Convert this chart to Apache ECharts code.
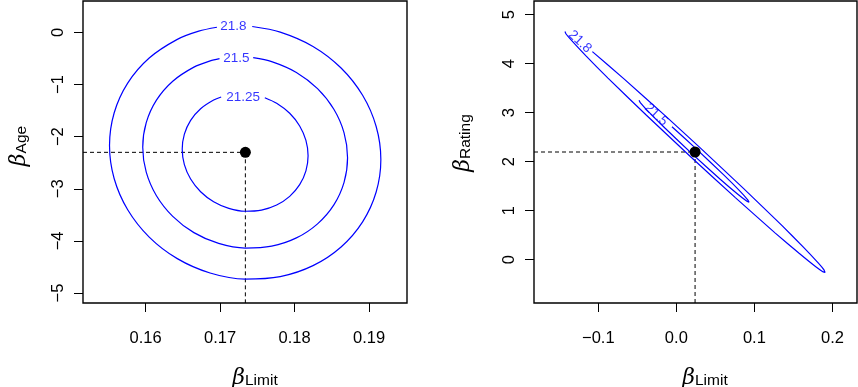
<!DOCTYPE html>
<html><head><meta charset="utf-8">
<script src="https://cdn.jsdelivr.net/npm/echarts@6/dist/echarts.min.js"></script>
<style>html,body{margin:0;padding:0;background:#fff}#c{width:858px;height:387px}</style>
</head><body><div id="c"></div>
<script>
// ---------- Left panel: beta_Limit vs beta_Age ----------
const leftXTicks = [0.16, 0.17, 0.18, 0.19];
const leftYTicks = [-5, -4, -3, -2, -1, 0];
const leftEstimate = [0.1734, -2.30];
const leftLevels = ['21.8', '21.5', '21.25'];
const leftLabelPos = [[0.1718, 0.126], [0.1722, -0.490], [0.1731, -1.245]];
const ageContour218 = [[0.17432,0.1143],[0.17808,0.0071],[0.18248,-0.2679],[0.18625,-0.6815],[0.18914,-1.2057],[0.19096,-1.8047],[0.19159,-2.4377],[0.19096,-3.0615],[0.18914,-3.6337],[0.18625,-4.1151],[0.18248,-4.4731],[0.17808,-4.6833],[0.17337,-4.7313],[0.16866,-4.6137],[0.16426,-4.3387],[0.16049,-3.9251],[0.15760,-3.4009],[0.15578,-2.8019],[0.15516,-2.1689],[0.15578,-1.5451],[0.15760,-0.9729],[0.16049,-0.4915],[0.16426,-0.1335],[0.16714,0.0243],[0.16958,0.0995]];
const ageContour215 = [[0.17445,-0.4839],[0.17693,-0.5590],[0.18025,-0.7665],[0.18309,-1.0789],[0.18528,-1.4746],[0.18665,-1.9269],[0.18712,-2.4048],[0.18665,-2.8757],[0.18528,-3.3078],[0.18309,-3.6713],[0.18025,-3.9415],[0.17693,-4.1002],[0.17337,-4.1364],[0.16981,-4.0476],[0.16649,-3.8401],[0.16365,-3.5277],[0.16146,-3.1320],[0.16009,-2.6797],[0.15962,-2.2018],[0.16009,-1.7309],[0.16146,-1.2988],[0.16365,-0.9353],[0.16649,-0.6651],[0.16867,-0.5460],[0.16993,-0.5033]];
const ageContour2125 = [[0.17601,-1.2525],[0.17760,-1.3588],[0.17935,-1.5508],[0.18069,-1.7940],[0.18153,-2.0719],[0.18182,-2.3657],[0.18153,-2.6551],[0.18069,-2.9206],[0.17935,-3.1440],[0.17760,-3.3102],[0.17556,-3.4076],[0.17337,-3.4299],[0.17118,-3.3754],[0.16914,-3.2478],[0.16739,-3.0558],[0.16605,-2.8126],[0.16521,-2.5347],[0.16492,-2.2409],[0.16521,-1.9515],[0.16605,-1.6860],[0.16739,-1.4626],[0.16914,-1.2964],[0.17015,-1.2380]];

// ---------- Right panel: beta_Limit vs beta_Rating ----------
const rightXTicks = [-0.1, 0.0, 0.1, 0.2];
const rightXTickLabels = ['\u22120.1', '0.0', '0.1', '0.2'];
const rightYTicks = [0, 1, 2, 3, 4, 5];
const rightEstimate = [0.0240, 2.198];
const rightLevels = ['21.8', '21.5'];
const rightLabelPos = [[-0.1235, 4.449], [-0.026, 2.959]];
const ratingContour218 = [[-0.1076,4.247],[-0.0671,3.690],[-0.0137,2.931],[0.0296,2.298],[0.0863,1.451],[0.1355,0.694],[0.1637,0.241],[0.1826,-0.080],[0.1892,-0.206],[0.1906,-0.259],[0.1872,-0.239],[0.1787,-0.145],[0.1573,0.131],[0.1268,0.543],[0.0756,1.267],[0.0183,2.102],[-0.0383,2.949],[-0.0876,3.706],[-0.1158,4.159],[-0.1346,4.480],[-0.1413,4.606],[-0.1427,4.659]];
const ratingContour215 = [[-0.0056,2.714],[0.0255,2.261],[0.0604,1.735],[0.0821,1.390],[0.0915,1.222],[0.0932,1.173],[0.0900,1.198],[0.0788,1.335],[0.0555,1.653],[0.0199,2.165],[-0.0150,2.694],[-0.0367,3.039],[-0.0462,3.206],[-0.0478,3.255]];

const L = {xmin: 0.1516, xmax: 0.1951, ymin: -5.19, ymax: 0.603};
const R = {xmin: -0.1824, xmax: 0.2315, ymin: -0.884, ymax: 5.28};

const FONT = 'Liberation Sans';
const BLUE = '#0000ff';
const minus = v => String(v).replace('-', '\u2212');

function xAxisCfg(grid, rng, ticks, labels) {
  return {
    type: 'value', gridIndex: grid, min: rng.xmin, max: rng.xmax, position: 'bottom',
    axisLine: {show: false, onZero: false}, splitLine: {show: false},
    axisTick: {show: true, inside: false, length: 9, customValues: ticks, lineStyle: {color: '#000', width: 1}},
    axisLabel: {show: true, customValues: ticks, margin: 27, color: '#000', fontFamily: FONT, fontSize: 16.5,
      formatter: v => { const i = ticks.findIndex(t => Math.abs(t - v) < 1e-9); return labels ? labels[i] : minus(v); }}
  };
}
function yAxisCfg(grid, rng, ticks) {
  return {
    type: 'value', gridIndex: grid, min: rng.ymin, max: rng.ymax, position: 'left',
    axisLine: {show: false, onZero: false}, splitLine: {show: false},
    axisTick: {show: true, inside: false, length: 9, customValues: ticks, lineStyle: {color: '#000', width: 1}},
    axisLabel: {show: true, customValues: ticks, rotate: 90, margin: 16, color: '#000', fontFamily: FONT, fontSize: 16.5,
      formatter: v => minus(v)}
  };
}
function contour(data, xi) {
  return {type: 'line', xAxisIndex: xi, yAxisIndex: xi, data: data, showSymbol: false, smooth: xi === 0 ? 0.3 : 0.15,
    lineStyle: {color: BLUE, width: 1.2}, silent: true, z: 3};
}
function dashed(data, xi) {
  return {type: 'line', xAxisIndex: xi, yAxisIndex: xi, data: data, showSymbol: false,
    lineStyle: {color: '#000', width: 1, type: [4, 3]}, silent: true, z: 2};
}
function labels(texts, pos, xi, rot) {
  return {type: 'scatter', xAxisIndex: xi, yAxisIndex: xi, symbolSize: 0, silent: true, z: 4,
    data: texts.map((t, i) => ({name: t, value: pos[i]})),
    label: {show: true, position: 'inside', formatter: p => p.name, color: BLUE, fontFamily: FONT, fontSize: 13.5, rotate: rot}};
}
function title(sub, x, y, rot) {
  return {type: 'text', x: x, y: y, rotation: rot, silent: true,
    style: {text: '{b|\u03b2}{s|' + sub + '}', align: 'center', verticalAlign: 'middle',
      rich: {b: {fontFamily: 'DejaVu Serif', fontStyle: 'italic', fontSize: 22, lineHeight: 24, verticalAlign: 'bottom', fill: '#000'},
             s: {fontFamily: FONT, fontSize: 15.5, lineHeight: 13, verticalAlign: 'bottom', fill: '#000'}}}};
}

const chart = echarts.init(document.getElementById('c'), null, {renderer: 'canvas'});
chart.setOption({
  animation: false,
  backgroundColor: '#fff',
  grid: [
    {left: 83, top: 1, width: 324, height: 302, show: true, borderColor: '#000', borderWidth: 1.4, backgroundColor: 'transparent'},
    {left: 534, top: 1, width: 323, height: 302, show: true, borderColor: '#000', borderWidth: 1.4, backgroundColor: 'transparent'}
  ],
  xAxis: [xAxisCfg(0, L, leftXTicks), xAxisCfg(1, R, rightXTicks, rightXTickLabels)],
  yAxis: [yAxisCfg(0, L, leftYTicks), yAxisCfg(1, R, rightYTicks)],
  series: [
    dashed([[L.xmin, leftEstimate[1]], leftEstimate], 0),
    dashed([leftEstimate, [leftEstimate[0], L.ymin]], 0),
    contour(ageContour218, 0), contour(ageContour215, 0), contour(ageContour2125, 0),
    labels(leftLevels, leftLabelPos, 0, 0),
    {type: 'scatter', xAxisIndex: 0, yAxisIndex: 0, data: [leftEstimate], symbolSize: 11, itemStyle: {color: '#000', opacity: 1}, z: 5, silent: true},
    dashed([[R.xmin, rightEstimate[1]], rightEstimate], 1),
    dashed([rightEstimate, [rightEstimate[0], R.ymin]], 1),
    contour(ratingContour218, 1), contour(ratingContour215, 1),
    labels(rightLevels, rightLabelPos, 1, -43),
    {type: 'scatter', xAxisIndex: 1, yAxisIndex: 1, data: [rightEstimate], symbolSize: 11, itemStyle: {color: '#000', opacity: 1}, z: 5, silent: true}
  ],
  graphic: [
    title('Limit', 255, 377, 0),
    title('Age', 18, 146, Math.PI / 2),
    title('Limit', 705, 377, 0),
    title('Rating', 462, 143, Math.PI / 2)
  ]
});
</script></body></html>
